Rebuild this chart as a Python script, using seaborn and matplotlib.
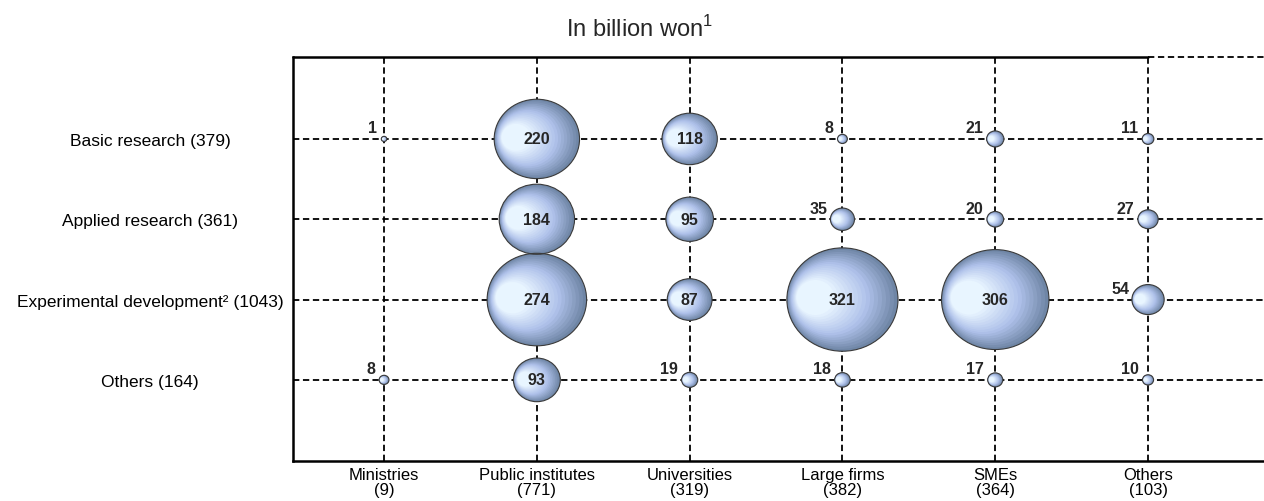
import numpy as np
import pandas as pd
import matplotlib
matplotlib.use("Agg")
import matplotlib.pyplot as plt
import seaborn as sns
from matplotlib.path import Path
from matplotlib.markers import MarkerStyle
from matplotlib.colors import to_rgb
from matplotlib.transforms import Affine2D

# ---- data ----
sectors = ["Ministries", "Public institutes", "Universities", "Large firms", "SMEs", "Others"]
sector_totals = [9, 771, 319, 382, 364, 103]
activities = ["Basic research", "Applied research", "Experimental development\u00b2", "Others"]
activity_totals = [379, 361, 1043, 164]
basic = [1, 220, 118, 8, 21, 11]
applied = [np.nan, 184, 95, 35, 20, 27]
experimental = [np.nan, 274, 87, 321, 306, 54]
others = [8, 93, 19, 18, 17, 10]
title = "In billion won"

rows = [basic, applied, experimental, others]
recs = []
for ai, (act, vals) in enumerate(zip(activities, rows)):
    for si, (sec, v) in enumerate(zip(sectors, vals)):
        if not np.isnan(v):
            recs.append({"activity": act, "sector": sec, "ai": ai, "si": si, "value": v})
df = pd.DataFrame(recs)
df["area"] = df["value"] ** 1.4

sns.set_style("white")
plt.rcParams["font.family"] = ["Liberation Sans", "DejaVu Sans"]

fig = plt.figure(figsize=(12.64, 5.02), dpi=100)
ax = fig.add_axes([293 / 1264, 40 / 502, 971 / 1264, 404 / 502])

SMIN, SMAX = 14, 6400
norm = (0, max(df["area"]))
SQ = 0.93  # slight vertical squash of the bubbles


def disc(rf, cx, cy):
    c = Path.circle((cx, cy), rf)
    c = Affine2D().scale(1.0, SQ).transform_path(c)
    verts = np.vstack([[1.0, 0.0], c.vertices])
    codes = np.concatenate([[Path.MOVETO], c.codes])
    return MarkerStyle(Path(verts, codes))


dark = np.array(to_rgb("#6f86a6"))
mid = np.array(to_rgb("#afc1ea"))
light = np.array(to_rgb("#e8f5ff"))


def shade(t):
    if t < 0.45:
        return dark + (mid - dark) * (t / 0.45)
    return mid + (light - mid) * ((t - 0.45) / 0.55)


common = dict(data=df, x="si", y="ai", size="area", sizes=(SMIN, SMAX), size_norm=norm,
              legend=False, ax=ax)
sns.scatterplot(marker=disc(1.0, 0, 0), color="#6f86a6", linewidth=0, zorder=3, **common)
N = 16
for k in range(1, N + 1):
    t = k / N
    rf = 1 - 0.66 * t
    cx = -(1 - rf) * 0.74
    cy = (1 - rf) * 0.06
    sns.scatterplot(marker=disc(rf, cx, cy), color=tuple(shade(t)), linewidth=0,
                    zorder=3 + k * 0.01, **common)
# outline
sns.scatterplot(marker=disc(1.0, 0, 0), facecolors="none", edgecolor="#3a3a3a",
                color="#3a3a3a", linewidth=0.8, zorder=4, **common)

# value labels
amax = max(df["area"])
for _, r in df.iterrows():
    s = SMIN + (SMAX - SMIN) * r["area"] / amax
    rad = np.sqrt(s) / 2
    txt = f"{int(r['value'])}"
    if r["value"] >= 80:
        ax.annotate(txt, (r["si"], r["ai"]), ha="center", va="center", fontsize=11.5,
                    fontweight="bold", zorder=6)
    else:
        ax.annotate(txt, (r["si"], r["ai"]), xytext=(-(rad * 0.85 + 3.5), 2.5),
                    textcoords="offset points", ha="right", va="bottom", fontsize=11.5,
                    fontweight="bold", zorder=6)

# axes limits and frame
x0, x1 = -0.596, 5.759
y_top, y_bot = -1.02, 4.01
ax.set_xlim(x0, x1)
ax.set_ylim(y_bot, y_top)

ax.set_xticks(range(len(sectors)))
ax.set_xticklabels([f"{s}\n({t})" for s, t in zip(sectors, sector_totals)],
                   fontsize=12, linespacing=1.05)
ax.set_yticks(range(len(activities)))
ax.set_yticklabels([f"{a} ({t})" for a, t in zip(activities, activity_totals)],
                   fontsize=12.5, ha="center")
ax.tick_params(axis="y", direction="in", length=4, width=1, pad=103, colors="black")
ax.tick_params(axis="x", direction="in", length=4, width=1, pad=4, colors="black")
ax.set_xlabel("")
ax.set_ylabel("")

ax.grid(True, color="black", linestyle=(0, (3.5, 2)), linewidth=1.3)
ax.set_axisbelow(True)
for sp in ["top", "right"]:
    ax.spines[sp].set_visible(False)
for sp in ["left", "bottom"]:
    ax.spines[sp].set_linewidth(1.8)
    ax.spines[sp].set_color("black")

frac = (5 - x0) / (x1 - x0)
ax.axhline(y_top, xmin=0, xmax=frac, color="black", lw=1.8, clip_on=False, zorder=2)
ax.axhline(y_top, xmin=frac, xmax=1, color="black", lw=1.3, ls=(0, (3.5, 2)),
           clip_on=False, zorder=2)

fig.text(640 / 1264, 1 - 29 / 502, title + "$^{\\mathregular{1}}$", ha="center",
         va="center", fontsize=17)

fig.savefig("out.png", dpi=100)
